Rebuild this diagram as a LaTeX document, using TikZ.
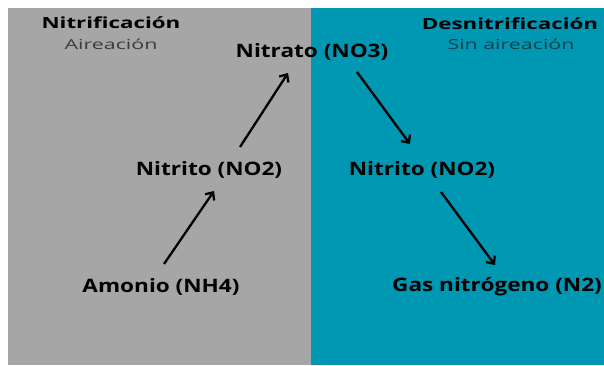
\documentclass[tikz,border=0pt]{standalone}
\usepackage{fontspec}
\setmainfont{Open Sans}
\newfontfamily\speciesfont{Open Sans}[FakeStretch=1.22]
\newfontfamily\titlefont{Open Sans}[FakeStretch=1.45]
\newfontfamily\subfont{Open Sans}[FakeStretch=1.55]
\usetikzlibrary{arrows.meta}
\definecolor{panelgray}{HTML}{A6A6A6}
\definecolor{panelteal}{HTML}{0097B2}
\definecolor{subgray}{HTML}{3C3C3C}
\definecolor{subteal}{HTML}{0B3F4A}
\begin{document}
\begin{tikzpicture}[x=1pt,y=-1pt,
  species/.style={font=\speciesfont\bfseries\fontsize{18.5}{22}\selectfont, text=black, inner sep=0pt},
  title/.style={font=\titlefont\bfseries\fontsize{15.4}{18}\selectfont, text=black, inner sep=0pt},
  subtitle/.style={font=\subfont\fontsize{13.8}{16}\selectfont, inner sep=0pt},
  flow/.style={-{Straight Barb[length=6pt,width=11pt]}, line width=2.3pt, black}]
\useasboundingbox (0,0) rectangle (604,365);
\fill[white] (0,0) rectangle (604,365);
\fill[panelgray] (8,8) rectangle (311,365);
\fill[panelteal] (311,8) rectangle (604,365);
\node[title] (t1) at (111,23) {Nitrificación};
\node[subtitle, text=subgray] (s1) at (111,44) {Aireación};
\node[title] (t2) at (510,24) {Desnitrificación};
\node[subtitle, text=subteal] (s2) at (511,44) {Sin aireación};
\node[species] (no3) at (312,52) {Nitrato (NO3)};
\node[species] (no2a) at (209,170) {Nitrito (NO2)};
\node[species] (no2b) at (422,170) {Nitrito (NO2)};
\node[species] (nh4) at (161,287) {Amonio (NH4)};
\node[species] (n2) at (497,287) {Gas nitrógeno (N2)};
\coordinate (a1s) at (164,264); \coordinate (a1e) at (214,191);
\coordinate (a2s) at (240,147); \coordinate (a2e) at (288,73);
\coordinate (a3s) at (357,72); \coordinate (a3e) at (410,144);
\coordinate (a4s) at (441,192); \coordinate (a4e) at (495,265);
\draw[flow] (a1s) -- (a1e);
\draw[flow] (a2s) -- (a2e);
\draw[flow] (a3s) -- (a3e);
\draw[flow] (a4s) -- (a4e);
\end{tikzpicture}
\end{document}
